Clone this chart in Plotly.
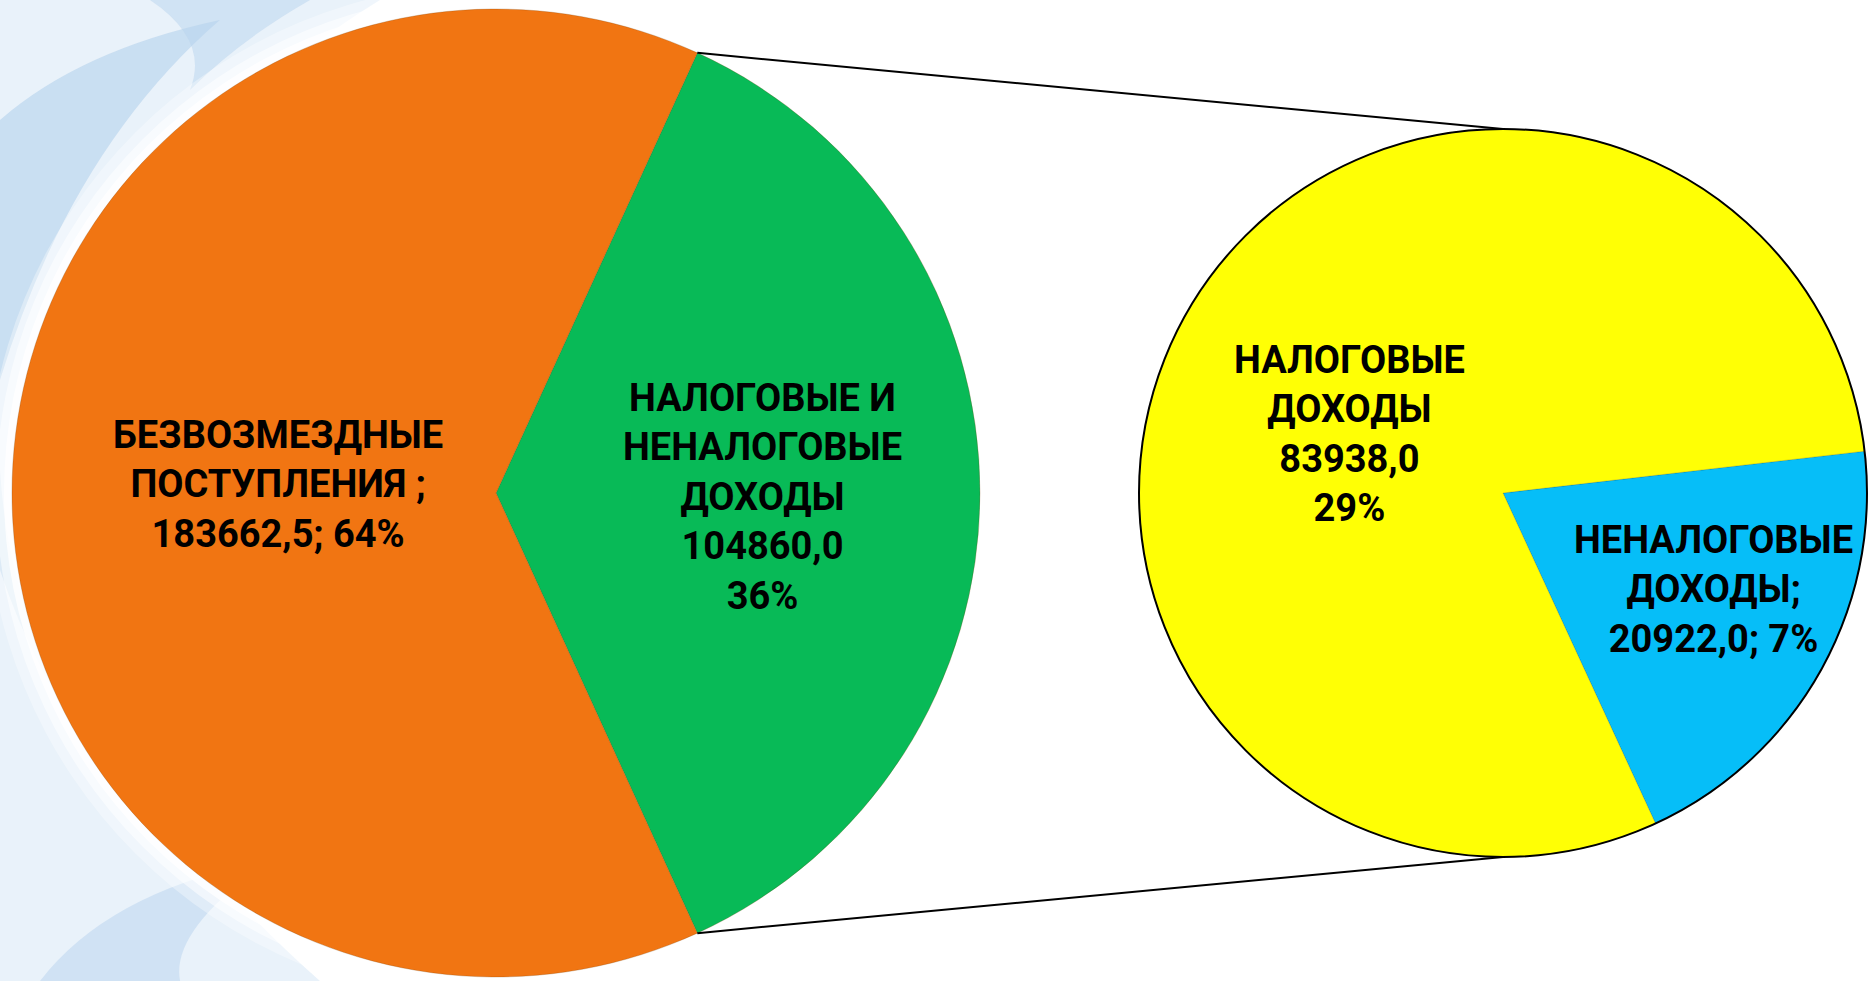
"""Pie-of-pie: structure of budget revenues."""

import math

import plotly.graph_objects as go

# ------------------------------------------------------------------
# Data
# ------------------------------------------------------------------
main_labels = ["НАЛОГОВЫЕ И НЕНАЛОГОВЫЕ ДОХОДЫ", "БЕЗВОЗМЕЗДНЫЕ ПОСТУПЛЕНИЯ"]
main_values = [104860.0, 183662.5]
main_colors = ["#08BA57", "#F17512"]

sub_labels = ["НЕНАЛОГОВЫЕ ДОХОДЫ", "НАЛОГОВЫЕ ДОХОДЫ"]
sub_values = [20922.0, 83938.0]
sub_colors = ["#06BEF8", "#FFFF05"]

# ------------------------------------------------------------------
# Layout geometry (pixels, origin top-left)
# ------------------------------------------------------------------
W, H = 1870, 981
LEFT = dict(cx=496, cy=493, r=484)
RIGHT = dict(cx=1503, cy=493, r=364)
FONT = "Roboto, 'Open Sans', 'DejaVu Sans', sans-serif"
FONT_SIZE = 38


def px(x, y):
    return x / W, 1 - y / H


def domain(p):
    x0, y0 = px(p["cx"] - p["r"], p["cy"] + p["r"])
    x1, y1 = px(p["cx"] + p["r"], p["cy"] - p["r"])
    return dict(x=[x0, x1], y=[y0, y1])


def point(p, angle_deg, frac=1.0):
    a = math.radians(angle_deg)
    return p["cx"] + frac * p["r"] * math.sin(a), p["cy"] - frac * p["r"] * math.cos(a)


def fmt(v):
    return f"{v:.1f}".replace(".", ",")


total = sum(main_values)
main_share = [v / sum(main_values) for v in main_values]
sub_share = [v / sum(sub_values) for v in sub_values]

# detail slice centred on 3 o'clock
main_rot = 90 - main_share[0] * 360 / 2
sub_rot = 83.4

fig = go.Figure()

fig.add_trace(
    go.Pie(
        labels=main_labels,
        values=main_values,
        marker=dict(colors=main_colors, line=dict(color="rgba(120,60,0,0.25)", width=1)),
        sort=False,
        direction="clockwise",
        rotation=main_rot,
        textinfo="none",
        domain=domain(LEFT),
        showlegend=False,
    )
)
fig.add_trace(
    go.Pie(
        labels=sub_labels,
        values=sub_values,
        marker=dict(colors=sub_colors, line=dict(color="rgba(0,0,0,0.15)", width=1)),
        sort=False,
        direction="clockwise",
        rotation=sub_rot,
        textinfo="none",
        domain=domain(RIGHT),
        showlegend=False,
    )
)

# ------------------------------------------------------------------
# Background swirls (decorative)
# ------------------------------------------------------------------
def path(pts):
    out = []
    for cmd, coords in pts:
        s = " ".join(f"{a:.4f},{b:.4f}" for a, b in (px(x, y) for x, y in coords))
        out.append(f"{cmd} {s}")
    return " ".join(out) + " Z"


swirls = [
    ([("M", [(0, 0)]), ("L", [(380, 0)]), ("Q", [(120, 160), (55, 440)]),
      ("Q", [(25, 720), (320, 981)]), ("L", [(0, 981)])], "#E2EDF8", 0.75),
    ([("M", [(0, 120)]), ("Q", [(80, 50), (220, 20)]), ("Q", [(70, 150), (0, 380)])], "#A9CBEA", 0.5),
    ([("M", [(150, 0)]), ("L", [(310, 0)]), ("Q", [(240, 40), (190, 90)]), ("Q", [(210, 40), (150, 0)])], "#B7D4EE", 0.5),
    ([("M", [(0, 470)]), ("Q", [(10, 640), (120, 790)]), ("Q", [(40, 690), (0, 570)])], "#A9CBEA", 0.5),
    ([("M", [(40, 981)]), ("Q", [(110, 890), (270, 860)]), ("Q", [(170, 930), (180, 981)])], "#BCD6EE", 0.55),
]
for d, col, op in swirls:
    fig.add_shape(type="path", xref="paper", yref="paper", path=path(d),
                  fillcolor=col, opacity=op, line=dict(width=0), layer="below")

# soft white halo round the main pie
for grow, op in [(26, 0.35), (16, 0.55), (8, 0.8)]:
    hx0, hy0 = px(LEFT["cx"] - LEFT["r"] - grow, LEFT["cy"] + LEFT["r"] + grow)
    hx1, hy1 = px(LEFT["cx"] + LEFT["r"] + grow, LEFT["cy"] - LEFT["r"] - grow)
    fig.add_shape(type="circle", xref="paper", yref="paper", x0=hx0, y0=hy0, x1=hx1, y1=hy1,
                  fillcolor="white", opacity=op, line=dict(width=0), layer="below")

# outline of the detail pie
x0, y0 = px(RIGHT["cx"] - RIGHT["r"], RIGHT["cy"] + RIGHT["r"])
x1, y1 = px(RIGHT["cx"] + RIGHT["r"], RIGHT["cy"] - RIGHT["r"])
fig.add_shape(type="circle", xref="paper", yref="paper", x0=x0, y0=y0, x1=x1, y1=y1,
              line=dict(color="black", width=2), fillcolor="rgba(0,0,0,0)")

# connector lines from the detail slice edges to the second pie
start_a = main_rot
end_a = main_rot + main_share[0] * 360
for a, b in [(point(LEFT, start_a), point(RIGHT, 0)), (point(LEFT, end_a), point(RIGHT, 180))]:
    ax0, ay0 = px(*a)
    ax1, ay1 = px(*b)
    fig.add_shape(type="line", xref="paper", yref="paper", x0=ax0, y0=ay0, x1=ax1, y1=ay1,
                  line=dict(color="black", width=2))

# ------------------------------------------------------------------
# Labels
# ------------------------------------------------------------------
main_text = [
    f"НАЛОГОВЫЕ И<br>НЕНАЛОГОВЫЕ<br>ДОХОДЫ<br>{fmt(main_values[0])}<br>{main_values[0] / total:.0%}",
    f"БЕЗВОЗМЕЗДНЫЕ<br>ПОСТУПЛЕНИЯ ;<br>{fmt(main_values[1])}; {main_values[1] / total:.0%}",
]
sub_text = [
    f"НЕНАЛОГОВЫЕ<br>ДОХОДЫ;<br>{fmt(sub_values[0])}; {sub_values[0] / total:.0%}",
    f"НАЛОГОВЫЕ<br>ДОХОДЫ<br>{fmt(sub_values[1])}<br>{sub_values[1] / total:.0%}",
]


def add_labels(p, rot, shares, texts, fracs, nudges):
    acc = rot
    for share, text, frac, (dx, dy) in zip(shares, texts, fracs, nudges):
        mid = acc + share * 360 / 2
        acc += share * 360
        x, y = point(p, mid, frac)
        xx, yy = px(x + dx, y + dy)
        fig.add_annotation(x=xx, y=yy, xref="paper", yref="paper", text=f"<b>{text}</b>",
                           showarrow=False, align="center", xanchor="center", yanchor="middle",
                           font=dict(family=FONT, size=FONT_SIZE, color="black"))


add_labels(LEFT, main_rot, main_share, main_text, [0.55, 0.45], [(0, 4), (0, -9)])
add_labels(RIGHT, sub_rot, sub_share, sub_text, [0.64, 0.45], [(7, -18), (-11, 21)])

fig.update_layout(
    width=W,
    height=H,
    margin=dict(l=0, r=0, t=0, b=0),
    paper_bgcolor="white",
    plot_bgcolor="white",
)

fig.write_html(
    "out.html",
    config={"displayModeBar": False},
    post_script="document.body.style.margin='0';document.body.style.overflow='hidden';",
)
